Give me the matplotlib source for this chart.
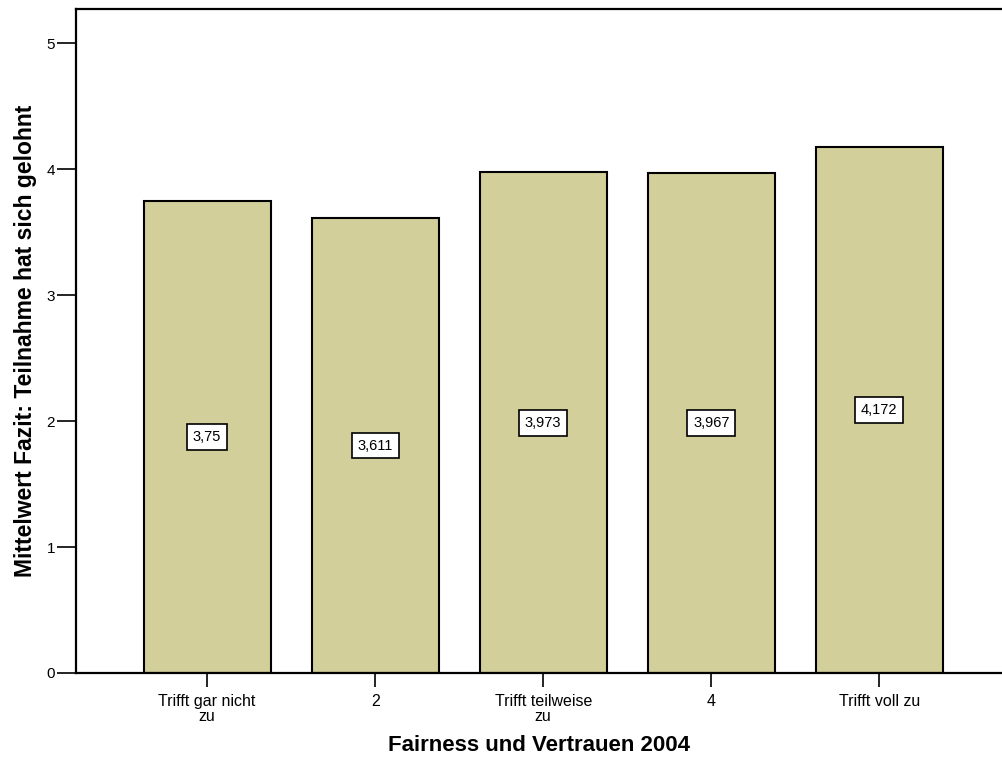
import matplotlib.pyplot as plt

kategorien = ['Trifft gar nicht\nzu', '2', 'Trifft teilweise\nzu', '4', 'Trifft voll zu']
mittelwerte = [3.75, 3.611, 3.973, 3.967, 4.172]
wert_labels = ['3,75', '3,611', '3,973', '3,967', '4,172']
y_ticks = [0, 1, 2, 3, 4, 5]

plt.rcParams['font.family'] = ['Liberation Sans', 'DejaVu Sans']

fig = plt.figure(figsize=(10.02, 7.6), dpi=100)
ax = fig.add_axes([76 / 1002, 87 / 760, 926 / 1002, 664 / 760])

pos = list(range(len(kategorien)))
ax.bar(pos, mittelwerte, width=0.755, color='#D3CF9B', edgecolor='black',
       linewidth=1.5, zorder=2)

# Werte-Kästchen in halber Balkenhöhe
for i, wert in enumerate(mittelwerte):
    ax.text(pos[i], wert / 2, wert_labels[i], ha='center', va='center',
            fontsize=10.5, zorder=3,
            bbox=dict(boxstyle='square,pad=0.4', facecolor='white',
                      edgecolor='black', linewidth=1.2))

ax.set_xlim(-0.78, 4.73)
ax.set_ylim(0, 5.27)
ax.set_yticks(y_ticks)
ax.set_xticks(pos)
ax.set_xticklabels(kategorien, fontsize=11.5, linespacing=1.0)
ax.tick_params(axis='y', length=14, width=1.2, labelsize=11, pad=1)
ax.tick_params(axis='x', length=10, width=1.2, pad=5)

for s in ['left', 'top', 'bottom']:
    ax.spines[s].set_linewidth(1.6)
ax.spines['right'].set_visible(False)

ax.set_xlabel('Fairness und Vertrauen 2004', fontsize=16, fontweight='bold',
              labelpad=8)
ax.set_ylabel('Mittelwert Fazit: Teilnahme hat sich gelohnt', fontsize=16.5,
              fontweight='bold', labelpad=7,
              family=['Liberation Sans Narrow', 'Liberation Sans'])

fig.savefig('out.png', dpi=100)
